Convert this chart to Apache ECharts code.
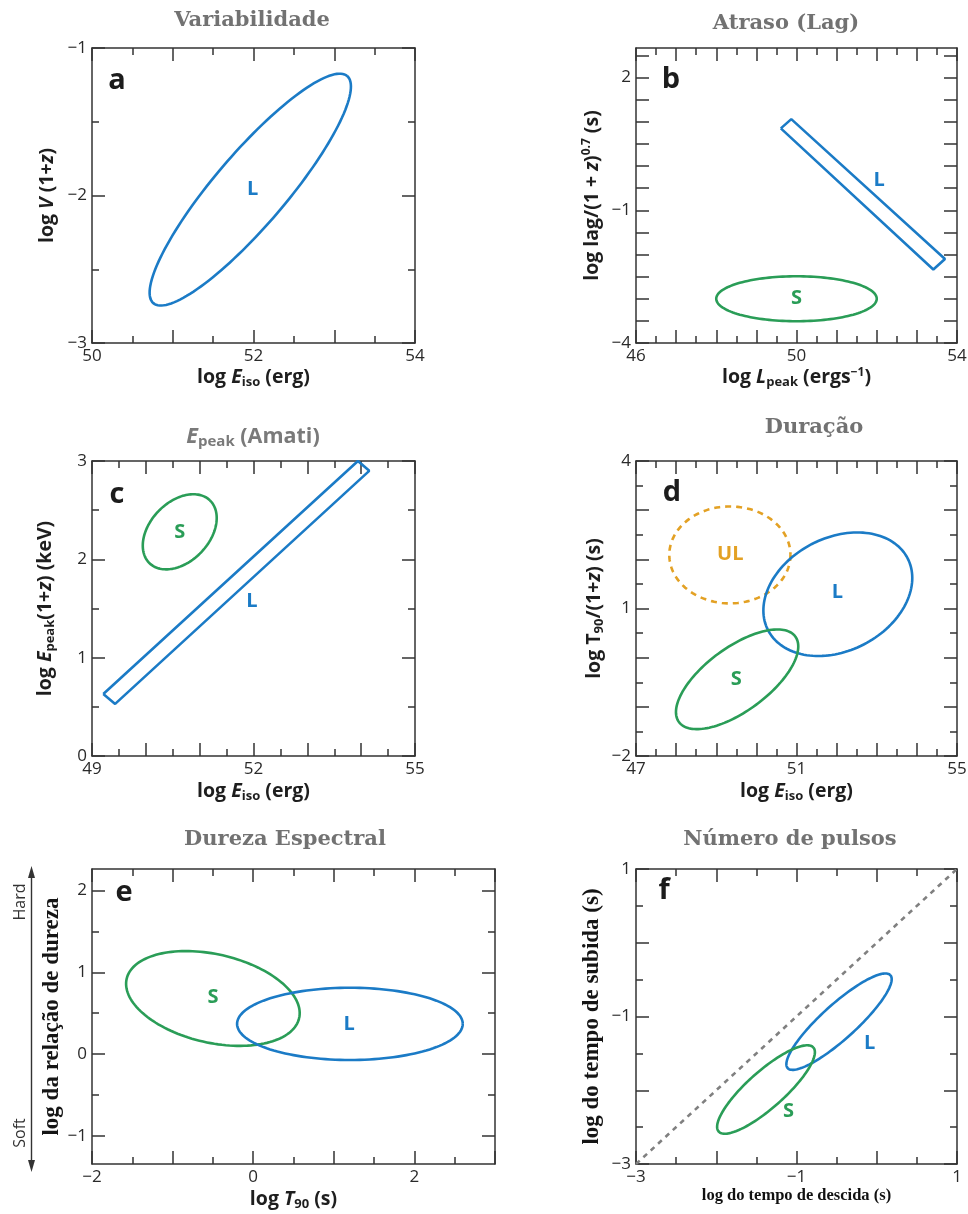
<!DOCTYPE html>
<html>
<head>
<meta charset="utf-8">
<script src="https://cdn.jsdelivr.net/npm/echarts@6/dist/echarts.min.js"></script>
<style>
  html, body { margin: 0; padding: 0; background: #fff; }
  #chart { width: 968px; height: 1214px; }
</style>
</head>
<body>
<div id="chart"></div>
<script>
// ellipses: [centerX, centerY, majorEndX, majorEndY, minor/major ratio]
// rectangles: corner points, closed

// a - Variabilidade
const varL = [51.96, -1.96, 53.16, -1.19, 0.24];
const varText = [[51.99, -1.96, 'L']];
const xLabelsA = [50, 52, 54];
const yLabelsA = [-3, -2, -1];

// b - Atraso (Lag)
const lagL = [[49.61, 0.85], [49.87, 1.06], [53.70, -2.10], [53.41, -2.34], [49.61, 0.85]];
const lagS = [50.0, -3.0, 52.0, -3.0, 0.28];
const lagText = [[52.06, -0.32, 'L'], [50.0, -3.0, 'S']];
const xLabelsB = [46, 50, 54];
const yLabelsB = [-4, -1, 2];

// c - Epeak (Amati)
const amatiL = [[49.21, 0.63], [49.43, 0.53], [54.15, 2.90], [53.94, 3.0], [49.21, 0.63]];
const amatiS = [50.63, 2.28, 51.19, 2.60, 0.68];
const amatiText = [[50.63, 2.28, 'S'], [51.97, 1.57, 'L']];
const xLabelsC = [49, 52, 55];
const yLabelsC = [0, 1, 2, 3];

// d - Duração
const durUL = [49.34, 2.09, 50.85, 2.09, 0.8];
const durL = [52.03, 1.29, 53.77, 2.02, 0.72];
const durS = [49.52, -0.44, 50.97, 0.43, 0.44];
const durText = [[49.35, 2.1, 'UL'], [52.02, 1.32, 'L'], [49.5, -0.44, 'S']];
const xLabelsD = [47, 51, 55];
const yLabelsD = [-2, 1, 4];

// e - Dureza Espectral
const hardS = [-0.50, 0.68, 0.57, 0.44, 0.50];
const hardL = [1.20, 0.37, 2.60, 0.37, 0.32];
const hardText = [[-0.5, 0.69, 'S'], [1.19, 0.37, 'L']];
const xLabelsE = [-2, 0, 2];
const yLabelsE = [-1, 0, 1, 2];

// f - Número de pulsos
const pulseL = [-0.47, -1.07, 0.17, -0.44, 0.25];
const pulseS = [-1.38, -1.99, -0.79, -1.42, 0.29];
const equality = [[-3, -3], [1, 1]];
const pulseText = [[-0.09, -1.36, 'L'], [-1.10, -2.29, 'S']];
const xLabelsF = [-3, -1, 1];
const yLabelsF = [-3, -1, 1];

const BLUE = '#1b7bc6', GREEN = '#2a9d57', ORANGE = '#e3a124';
const AX = '#333';

function range(a, b, step) {
  const out = [];
  for (let v = a; v <= b + 1e-9; v += step) out.push(+v.toFixed(3));
  return out;
}
function fmt(v) { return v < 0 ? '\u2212' + Math.abs(v) : String(v); }

const sans = { fontFamily: 'Open Sans', fontWeight: 'bold', fontSize: 19.5, color: '#1e1e1e' };
const richSans = {
  i: Object.assign({}, sans, { fontStyle: 'italic' }),
  sub: Object.assign({}, sans, { fontSize: 13, padding: [10, 0, 0, 0] }),
  sup: Object.assign({}, sans, { fontSize: 12, padding: [0, 0, 10, 0] })
};
const sansName = Object.assign({}, sans, { rich: richSans });
const serifName = { fontFamily: 'Liberation Serif', fontWeight: 'bold', fontSize: 23, color: '#151515' };

// grid rectangles [left, top, width, height]
const panels = [
  { rect: [92, 48, 323, 295], x: [50, 54], y: [-3, -1], xl: xLabelsA, yl: yLabelsA,
    xName: 'log {i|E}{sub|iso} (erg)', xGap: 23, xStyle: sansName,
    yName: 'log {i|V} (1+{i|z})', yGap: 35, yStyle: sansName },
  { rect: [636, 48, 321, 295], x: [46, 54], y: [-4, 2.667], xl: xLabelsB, yl: yLabelsB, yAllHalf: true,
    xName: 'log {i|L}{sub|peak} (ergs{sup|\u22121})', xGap: 23, xStyle: sansName,
    yName: 'log lag/(1 + {i|z}){sup|0.7} (s)', yGap: 33, yStyle: sansName },
  { rect: [92, 461, 323, 295], x: [49, 55], y: [0, 3], xl: xLabelsC, yl: yLabelsC,
    xName: 'log {i|E}{sub|iso} (erg)', xGap: 24, xStyle: sansName,
    yName: 'log {i|E}{sub|peak}(1+{i|z}) (keV)', yGap: 35, yStyle: sansName },
  { rect: [636, 461, 321, 295], x: [47, 55], y: [-2, 4], xl: xLabelsD, yl: yLabelsD,
    xName: 'log {i|E}{sub|iso} (erg)', xGap: 24, xStyle: sansName,
    yName: 'log T{sub|90}/(1+{i|z}) (s)', yGap: 30, yStyle: sansName },
  { rect: [92, 869, 403, 295], x: [-2, 3], y: [-1.34, 2.26], xl: xLabelsE, yl: yLabelsE,
    xName: 'log {i|T}{sub|90} (s)', xGap: 24, xStyle: sansName,
    yName: 'log da relação de dureza', yGap: 27, yStyle: serifName },
  { rect: [636, 869, 321, 295], x: [-3, 1], y: [-3, 1], xl: xLabelsF, yl: yLabelsF,
    xName: 'log do tempo de descida (s)', xGap: 21,
    xStyle: { fontFamily: 'Liberation Serif', fontWeight: 'bold', fontSize: 16.5, color: '#111' },
    yName: 'log do tempo de subida (s)', yGap: 32, yStyle: serifName }
];

function axesFor(g, dim, ext, labels, majors, minors, name, gap, style) {
  const pos = dim === 'x' ? ['bottom', 'top'] : ['left', 'right'];
  const line = { show: true, onZero: false, lineStyle: { color: AX, width: 1.5 } };
  const noLine = { show: false, onZero: false };
  const tick = (vals, len) => ({ show: true, inside: true, length: len, customValues: vals,
    lineStyle: { color: AX, width: 1.5 } });
  const base = () => ({ type: 'value', gridIndex: g, min: ext[0], max: ext[1],
    splitLine: { show: false }, axisLabel: { show: false } });
  const main = Object.assign(base(), {
    position: pos[0], axisLine: line, axisTick: tick(majors, 13),
    axisLabel: { show: true, customValues: labels, formatter: fmt,
      fontFamily: 'Open Sans', fontSize: 17, color: '#2a2a2a', margin: 5 },
    name: name, nameLocation: 'middle', nameGap: gap, nameTextStyle: style
  });
  const mainMinor = Object.assign(base(), { position: pos[0], axisLine: noLine, axisTick: tick(minors, 7) });
  const opp = Object.assign(base(), { position: pos[1], axisLine: line, axisTick: tick(majors, 13) });
  const oppMinor = Object.assign(base(), { position: pos[1], axisLine: noLine, axisTick: tick(minors, 7) });
  return [main, mainMinor, opp, oppMinor];
}

const grids = [], xAxes = [], yAxes = [];
panels.forEach((p, g) => {
  grids.push({ left: p.rect[0], top: p.rect[1], width: p.rect[2], height: p.rect[3],
    containLabel: false, outerBoundsMode: 'none' });
  const xMaj = range(Math.ceil(p.x[0]), Math.floor(p.x[1]), 1);
  const xMin = range(Math.ceil(p.x[0] * 2) / 2, p.x[1], 0.5);
  xAxes.push(...axesFor(g, 'x', p.x, p.xl, xMaj, xMin, p.xName, p.xGap, p.xStyle));
  let yMaj = range(Math.ceil(p.y[0]), Math.floor(p.y[1]), 1);
  const yMin = range(Math.ceil(p.y[0] * 2) / 2, p.y[1], 0.5);
  if (p.yAllHalf) yMaj = yMin;
  yAxes.push(...axesFor(g, 'y', p.y, p.yl, yMaj, yMin, p.yName, p.yGap, p.yStyle));
});

function ellipseRender(color, dash) {
  return function (params, api) {
    const c = api.coord([api.value(0), api.value(1)]);
    const e = api.coord([api.value(2), api.value(3)]);
    const r = api.value(4);
    const dx = e[0] - c[0], dy = e[1] - c[1];
    const qx = -dy * r, qy = dx * r;
    const pts = [];
    for (let i = 0; i <= 144; i++) {
      const t = i / 144 * Math.PI * 2;
      pts.push([c[0] + dx * Math.cos(t) + qx * Math.sin(t), c[1] + dy * Math.cos(t) + qy * Math.sin(t)]);
    }
    return { type: 'polyline', shape: { points: pts },
      style: { stroke: color, lineWidth: 2.6, fill: null, lineDash: dash || null } };
  };
}

function ellipse(g, item, color, dash) {
  return { type: 'custom', xAxisIndex: g * 4, yAxisIndex: g * 4, silent: true, clip: false,
    renderItem: ellipseRender(color, dash), data: [item] };
}
function rect(g, pts, color) {
  return { type: 'line', xAxisIndex: g * 4, yAxisIndex: g * 4, silent: true, symbol: 'none',
    lineStyle: { color: color, width: 2.6 }, data: pts };
}
function textSeries(g, items) {
  return items.map(it => ({
    type: 'scatter', xAxisIndex: g * 4, yAxisIndex: g * 4, silent: true, symbolSize: 1,
    itemStyle: { color: 'transparent', opacity: 1 }, data: [it],
    label: { show: true, position: 'inside', formatter: p => p.data[2], opacity: 1,
      fontFamily: 'Open Sans', fontWeight: 'bold', fontSize: 20,
      color: it[2] === 'L' ? BLUE : it[2] === 'S' ? GREEN : ORANGE }
  }));
}

const series = [
  ellipse(0, varL, BLUE),
  rect(1, lagL, BLUE), ellipse(1, lagS, GREEN),
  rect(2, amatiL, BLUE), ellipse(2, amatiS, GREEN),
  ellipse(3, durUL, ORANGE, [6, 5]), ellipse(3, durL, BLUE), ellipse(3, durS, GREEN),
  ellipse(4, hardS, GREEN), ellipse(4, hardL, BLUE),
  { type: 'line', xAxisIndex: 20, yAxisIndex: 20, silent: true, symbol: 'none',
    lineStyle: { color: '#808080', width: 2.6, type: [5, 5] }, data: equality },
  ellipse(5, pulseL, BLUE), ellipse(5, pulseS, GREEN)
].concat(
  textSeries(0, varText), textSeries(1, lagText), textSeries(2, amatiText),
  textSeries(3, durText), textSeries(4, hardText), textSeries(5, pulseText)
);

const titleStyle = { fontFamily: 'DejaVu Serif', fontWeight: 'bold', fontSize: 21, color: '#727272' };
const tsans = { fontFamily: 'Open Sans', fontWeight: 'bold', fontSize: 21.5, color: '#7a7a7a' };
const titles = [
  { text: 'Variabilidade', left: 252, top: 10 },
  { text: 'Atraso (Lag)', left: 786, top: 13 },
  { text: '{i|E}{s|peak}{b| (Amati)}', left: 253, top: 424,
    rich: { i: Object.assign({}, tsans, { fontStyle: 'italic' }),
            s: Object.assign({}, tsans, { fontSize: 15, padding: [10, 0, 0, 0] }),
            b: tsans } },
  { text: 'Duração', left: 814, top: 417 },
  { text: 'Dureza Espectral', left: 285, top: 829 },
  { text: 'Número de pulsos', left: 790, top: 829 }
].map(t => ({ text: t.text, left: t.left, top: t.top, textAlign: 'center', padding: 0,
  textStyle: Object.assign({}, titleStyle, t.rich ? { rich: t.rich } : {}) }));

const letterStyle = { fontFamily: 'Open Sans', fontWeight: 'bold', fontSize: 29, fill: '#1c1c1c',
  textAlign: 'center', textVerticalAlign: 'middle' };
const letters = [['a', 117, 81], ['b', 671, 80], ['c', 117, 495], ['d', 672, 493], ['e', 124, 893], ['f', 664, 891]];
const graphic = letters.map(l => ({ type: 'text', x: l[1], y: l[2],
  style: Object.assign({ text: l[0] }, letterStyle) }));
const sideStyle = { fontFamily: 'Open Sans', fontSize: 16, fill: '#333', textAlign: 'center', textVerticalAlign: 'middle' };
graphic.push(
  { type: 'line', shape: { x1: 31.5, y1: 874, x2: 31.5, y2: 1164 }, style: { stroke: '#333', lineWidth: 1.4 } },
  { type: 'polygon', shape: { points: [[31.5, 866], [28, 878], [35, 878]] }, style: { fill: '#333' } },
  { type: 'polygon', shape: { points: [[31.5, 1172], [28, 1160], [35, 1160]] }, style: { fill: '#333' } },
  { type: 'text', x: 20, y: 902, rotation: Math.PI / 2, style: Object.assign({ text: 'Hard' }, sideStyle) },
  { type: 'text', x: 20, y: 1133, rotation: Math.PI / 2, style: Object.assign({ text: 'Soft' }, sideStyle) }
);

const chart = echarts.init(document.getElementById('chart'), null, { renderer: 'canvas' });
chart.setOption({
  backgroundColor: '#fff',
  animation: false,
  title: titles,
  grid: grids,
  xAxis: xAxes,
  yAxis: yAxes,
  series: series,
  graphic: graphic
});
</script>
</body>
</html>
